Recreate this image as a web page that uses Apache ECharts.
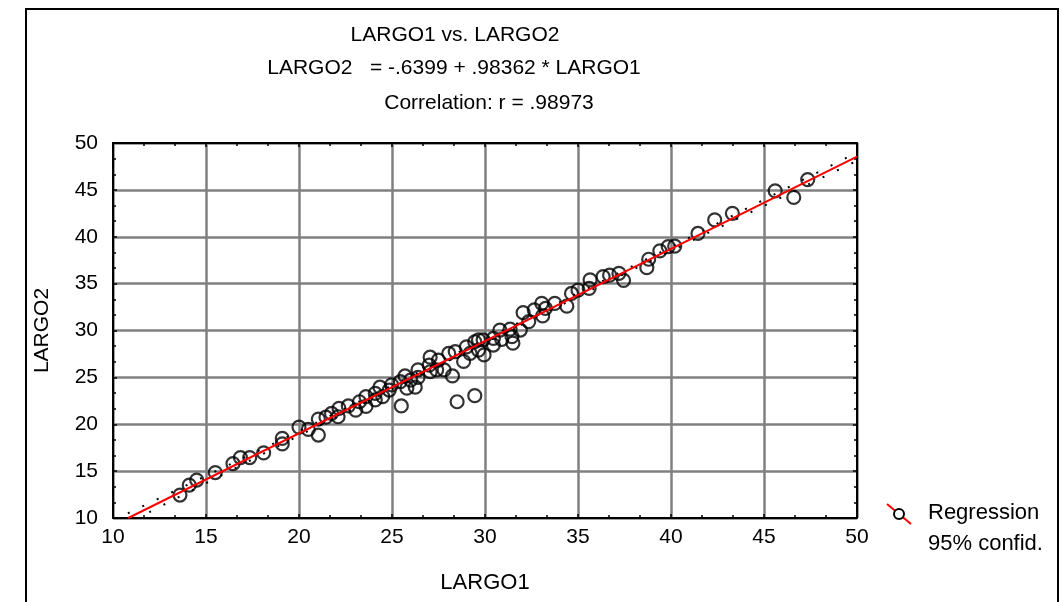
<!DOCTYPE html>
<html><head><meta charset="utf-8">
<script src="https://cdn.jsdelivr.net/npm/echarts@6/dist/echarts.min.js"></script>
<style>html,body{margin:0;padding:0;background:#fff}#c{width:1062px;height:602px}</style>
</head><body><div id="c"></div>
<script>
var largo1 = [13.6,14.1,14.5,15.5,16.45,16.85,17.35,18.1,19.1,19.1,20.0,20.5,21.04,21.04,21.45,21.75,22.15,22.1,22.65,23.05,23.25,23.6,23.6,24.1,24.1,24.35,24.5,24.98,24.85,25.45,25.5,25.7,25.8,26.25,26.0,26.4,26.4,27.05,27.0,27.05,27.5,27.4,27.8,28.05,28.25,28.4,28.5,28.85,29.0,29.45,29.2,29.45,29.65,29.65,29.9,29.95,30.45,30.45,30.8,30.9,31.35,31.5,31.45,31.9,32.05,32.35,32.65,33.05,33.1,33.25,33.75,34.4,34.65,35.0,35.65,35.6,36.35,36.7,37.2,37.45,38.7,38.8,39.4,39.85,40.2,41.45,42.35,43.3,45.6,46.6,47.35];
var largo2 = [12.45,13.5,14.05,14.85,15.8,16.45,16.45,16.95,18.5,17.9,19.7,19.45,20.55,18.85,20.75,21.15,21.7,20.8,21.95,21.5,22.4,22.95,21.9,22.6,23.3,23.95,22.95,24.2,23.65,24.55,21.95,25.15,23.85,23.95,24.7,25.8,25.0,27.15,26.3,25.6,26.85,25.8,25.8,27.55,25.15,27.75,22.4,26.7,28.25,23.05,27.55,28.8,27.9,29.0,29.0,27.4,28.45,29.15,30.05,29.05,30.15,28.65,29.35,30.05,31.9,30.95,32.2,32.9,31.55,32.35,32.9,32.6,33.95,34.3,35.4,34.5,35.75,35.9,36.1,35.35,36.7,37.6,38.5,38.95,39.0,40.35,41.8,42.5,44.9,44.2,46.1];
var regX = [10.82, 50];
var regY = [10.0, 48.54];
var bandX = [10.8, 20, 30, 40, 50];
var bandUpper = [10.5, 19.25, 29.05, 38.9, 49.0];
var bandLower = [9.45, 18.8, 28.7, 38.5, 48.1];
var xTicks = [10, 15, 20, 25, 30, 35, 40, 45, 50];
var yTicks = [10, 15, 20, 25, 30, 35, 40, 45, 50];

function pairs(a, b) { return a.map(function (v, i) { return [v, b[i]]; }); }
var FONT = '"Liberation Sans", Arial, sans-serif';
var chart = echarts.init(document.getElementById('c'), null, {renderer: 'canvas'});
var tickStyle = {show: true, inside: true, length: 4, lineStyle: {color: '#000', width: 1.5}};
var minor = {show: true, splitNumber: 3, length: 3, lineStyle: {color: '#000', width: 1.5}};
var axisLine = {show: true, onZero: false, lineStyle: {color: '#000', width: 2}};
function baseAxis(ticks, extra) {
  var o = {
    type: 'value', min: ticks[0], max: ticks[ticks.length - 1], interval: ticks[1] - ticks[0],
    axisLine: axisLine, axisTick: tickStyle, minorTick: minor,
    splitLine: {show: false}, minorSplitLine: {show: false},
    axisLabel: {show: false}
  };
  for (var k in extra) o[k] = extra[k];
  return o;
}
var option = {
  animation: false,
  backgroundColor: '#fff',
  grid: {left: 113, top: 143, width: 744, height: 375, containLabel: false},
  xAxis: [
    baseAxis(xTicks, {
      position: 'bottom',
      splitLine: {show: true, lineStyle: {color: '#808080', width: 2.5}},
      axisLabel: {show: true, color: '#000', fontSize: 21, fontFamily: FONT, margin: 9},
      name: 'LARGO1', nameLocation: 'middle', nameGap: 54,
      nameTextStyle: {color: '#000', fontSize: 22, fontFamily: FONT}
    }),
    baseAxis(xTicks, {position: 'top'})
  ],
  yAxis: [
    baseAxis(yTicks, {
      position: 'left',
      splitLine: {show: true, lineStyle: {color: '#808080', width: 2.5}},
      axisLabel: {show: true, color: '#000', fontSize: 21, fontFamily: FONT, margin: 15},
      name: 'LARGO2', nameLocation: 'middle', nameGap: 60,
      nameTextStyle: {color: '#000', fontSize: 21, fontFamily: FONT}
    }),
    baseAxis(yTicks, {position: 'right'})
  ],
  series: [
    {type: 'line', data: pairs(bandX, bandUpper), symbol: 'none', silent: true,
      lineStyle: {color: '#000', width: 2, type: [2, 14]}, z: 2},
    {type: 'line', data: pairs(bandX, bandLower), symbol: 'none', silent: true,
      lineStyle: {color: '#000', width: 2, type: [2, 14], dashOffset: 8}, z: 2},
    {type: 'scatter', data: pairs(largo1, largo2), symbol: 'circle', symbolSize: 13,
      itemStyle: {color: 'rgba(255,255,255,0)', borderColor: '#000', borderWidth: 2.2}, z: 3},
    {type: 'line', data: pairs(regX, regY), symbol: 'none', silent: true,
      lineStyle: {color: '#ff0000', width: 2}, z: 4}
  ],
  graphic: [
    {type: 'rect', shape: {x: 26, y: 9, width: 1032, height: 700}, silent: true,
      style: {fill: 'none', stroke: '#000', lineWidth: 2}, z: -1},
    {type: 'text', x: 455, y: 35, style: {text: 'LARGO1 vs. LARGO2', font: '21px ' + FONT, fill: '#000', textAlign: 'center', textVerticalAlign: 'middle'}},
    {type: 'text', x: 454, y: 68, style: {text: 'LARGO2   = -.6399 + .98362 * LARGO1', font: '21px ' + FONT, fill: '#000', textAlign: 'center', textVerticalAlign: 'middle'}},
    {type: 'text', x: 489, y: 103, style: {text: 'Correlation: r = .98973', font: '21px ' + FONT, fill: '#000', textAlign: 'center', textVerticalAlign: 'middle'}},
    {type: 'line', shape: {x1: 887, y1: 504, x2: 911, y2: 524}, style: {stroke: '#ff0000', lineWidth: 2}},
    {type: 'circle', shape: {cx: 899, cy: 514, r: 5}, style: {fill: '#fff', stroke: '#000', lineWidth: 2}},
    {type: 'text', x: 928, y: 513, style: {text: 'Regression', font: '22px ' + FONT, fill: '#000', textAlign: 'left', textVerticalAlign: 'middle'}},
    {type: 'text', x: 928, y: 544, style: {text: '95% confid.', font: '22px ' + FONT, fill: '#000', textAlign: 'left', textVerticalAlign: 'middle'}}
  ]
};
chart.setOption(option);
</script></body></html>
